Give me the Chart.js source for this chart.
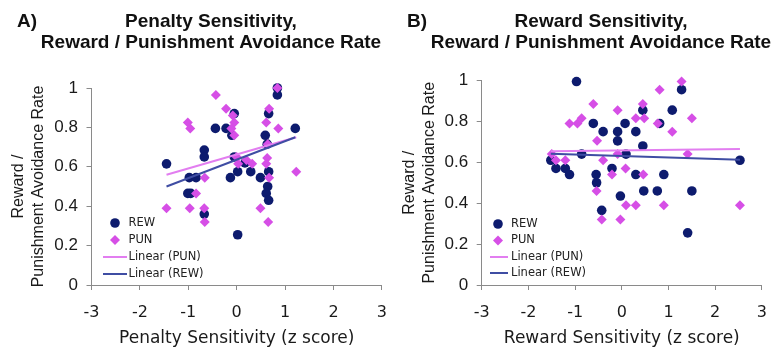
<!DOCTYPE html>
<html>
<head>
<meta charset="utf-8">
<script src="https://cdn.jsdelivr.net/npm/chart.js@4.4.1/dist/chart.umd.min.js"></script>
<style>
  html, body { margin: 0; padding: 0; background: #ffffff; }
  #wrap { position: relative; width: 780px; height: 353px; overflow: hidden; background: #ffffff; }
  canvas { position: absolute; top: 0; }
  #panelA { left: 0; }
  #panelB { left: 395px; }
</style>
</head>
<body>
<div id="wrap">
  <canvas id="panelA" width="400" height="353"></canvas>
  <canvas id="panelB" width="385" height="353"></canvas>
</div>
<script>
// ---- tick values shared by both panels ----
const xTickValues = [-3, -2, -1, 0, 1, 2, 3];
const yTickValues = [0, 0.2, 0.4, 0.6, 0.8, 1];

// ---- Panel A: penalty sensitivity (z) vs avoidance rate ----
const penaltyRewX = [0.84, 0.84, -1.45, -0.44, -0.22, -0.05, -0.10, 1.21, 0.66, 0.59, 0.63, -0.67, -0.67, -0.05, 0.17, 0.02, 0.29, -0.13, 0.49, -0.98, -0.84, 0.66, 0.64, 0.61, 0.66, -1.01, -0.95, -0.67, 0.02];
const penaltyRewY = [1.00, 0.965, 0.615, 0.795, 0.795, 0.87, 0.76, 0.795, 0.87, 0.76, 0.715, 0.685, 0.65, 0.65, 0.62, 0.575, 0.575, 0.545, 0.545, 0.545, 0.545, 0.575, 0.50, 0.465, 0.43, 0.465, 0.465, 0.36, 0.255];
const penaltyPunX = [0.84, -0.43, -0.22, -0.08, -0.05, -0.11, -0.05, -1.01, -0.96, 0.67, 0.61, 0.86, 0.64, 0.00, 0.03, 0.20, 0.32, 0.63, 0.61, 0.67, 1.23, -0.66, -0.84, -1.45, -0.97, -0.67, -0.66, 0.49, 0.65];
const penaltyPunY = [1.00, 0.965, 0.895, 0.86, 0.825, 0.795, 0.76, 0.825, 0.795, 0.895, 0.825, 0.795, 0.715, 0.65, 0.615, 0.635, 0.615, 0.645, 0.615, 0.545, 0.575, 0.545, 0.465, 0.39, 0.39, 0.39, 0.32, 0.39, 0.32];
const penaltyFitPunX = [-1.45, 1.23];
const penaltyFitPunY = [0.56, 0.75];
const penaltyFitRewX = [-1.45, 1.21];
const penaltyFitRewY = [0.50, 0.75];

// ---- Panel B: reward sensitivity (z) vs avoidance rate ----
const rewardRewX = [-0.97, 1.28, 0.45, 1.08, -0.61, 0.07, 0.81, -0.40, -0.09, 0.30, -0.09, 0.45, -0.86, 0.09, -1.52, -1.41, -1.21, -1.12, -0.21, -0.55, -0.54, 0.30, 0.90, 0.47, 0.76, 1.50, -0.03, -0.43, 1.41, 2.53];
const rewardRewY = [0.995, 0.955, 0.855, 0.855, 0.79, 0.79, 0.79, 0.75, 0.75, 0.75, 0.705, 0.68, 0.64, 0.64, 0.61, 0.57, 0.57, 0.54, 0.57, 0.54, 0.50, 0.54, 0.54, 0.46, 0.46, 0.46, 0.435, 0.365, 0.255, 0.61];
const rewardPunX = [1.28, 0.81, -0.61, 0.45, -0.09, -0.86, -1.12, -0.95, 0.30, 0.48, 1.50, 0.77, 1.08, -0.53, -1.50, -0.09, 1.41, -1.41, -1.21, -0.40, 0.08, -0.21, 0.46, -0.54, 0.09, 0.30, 0.90, 2.53, -0.43, -0.03];
const rewardPunY = [0.995, 0.955, 0.885, 0.885, 0.855, 0.815, 0.79, 0.79, 0.815, 0.815, 0.815, 0.79, 0.75, 0.705, 0.64, 0.64, 0.64, 0.61, 0.61, 0.61, 0.57, 0.54, 0.54, 0.46, 0.39, 0.39, 0.39, 0.39, 0.32, 0.32];
const rewardFitPunX = [-1.52, 2.53];
const rewardFitPunY = [0.654, 0.665];
const rewardFitRewX = [-1.52, 2.53];
const rewardFitRewY = [0.642, 0.613];

// ---- look ----
const ARIAL = "'Liberation Sans', Arial, sans-serif";
const VERDANA = "'DejaVu Sans', Verdana, sans-serif";
const NAVY = '#0d1b6e';
const MAGENTA = '#d64fe6';
const MAGENTA_LINE = '#e27ef0';
const NAVY_LINE = '#3f4da3';
const AXIS_GREY = '#8a8a8a';

const pairs = (xs, ys) => xs.map((x, i) => ({ x: x, y: ys[i] }));

// Two-line bold heading with a panel letter on the left
const headingPlugin = {
  id: 'panelHeading',
  afterDraw(chart, args, o) {
    const ctx = chart.ctx;
    ctx.save();
    ctx.fillStyle = '#111111';
    ctx.font = `bold ${o.size}px ${ARIAL}`;
    ctx.textBaseline = 'middle';
    ctx.textAlign = 'left';
    ctx.fillText(o.tag, o.tagX, o.lineY[0]);
    ctx.textAlign = 'center';
    o.lines.forEach((t, i) => ctx.fillText(t, o.centerX, o.lineY[i]));
    ctx.restore();
  }
};

// Small key in the lower-left corner of the plot, built from the datasets
const keyPlugin = {
  id: 'cornerKey',
  afterDatasetsDraw(chart, args, o) {
    const ctx = chart.ctx;
    ctx.save();
    ctx.font = `${o.size}px ${VERDANA}`;
    ctx.textBaseline = 'middle';
    ctx.textAlign = 'left';
    chart.data.datasets.forEach((ds, i) => {
      const y = o.rows[i];
      if (ds.showLine) {
        ctx.strokeStyle = ds.borderColor;
        ctx.lineWidth = ds.borderWidth;
        ctx.beginPath();
        ctx.moveTo(o.lineX[0], y);
        ctx.lineTo(o.lineX[1], y);
        ctx.stroke();
      } else {
        ctx.fillStyle = ds.backgroundColor;
        const r = ds.pointRadius;
        ctx.beginPath();
        if (ds.pointStyle === 'rectRot') {
          ctx.moveTo(o.markX, y - r);
          ctx.lineTo(o.markX + r, y);
          ctx.lineTo(o.markX, y + r);
          ctx.lineTo(o.markX - r, y);
          ctx.closePath();
        } else {
          ctx.arc(o.markX, y, r, 0, Math.PI * 2);
        }
        ctx.fill();
      }
      ctx.fillStyle = '#222222';
      ctx.fillText(ds.label, o.textX, y);
    });
    ctx.restore();
  }
};

function buildPanel(id, p) {
  const datasets = [
    { label: 'REW', type: 'scatter', data: pairs(p.rewX, p.rewY), pointStyle: 'circle', pointRadius: 4.8,
      backgroundColor: NAVY, borderWidth: 0, pointBorderWidth: 0, order: 4, clip: false },
    { label: 'PUN', type: 'scatter', data: pairs(p.punX, p.punY), pointStyle: 'rectRot', pointRadius: 5,
      backgroundColor: MAGENTA, borderWidth: 0, pointBorderWidth: 0, order: 3, clip: false },
    { label: 'Linear (PUN)', type: 'line', data: pairs(p.fitPunX, p.fitPunY), showLine: true, pointRadius: 0,
      borderColor: MAGENTA_LINE, borderWidth: 2, fill: false, order: 2 },
    { label: 'Linear (REW)', type: 'line', data: pairs(p.fitRewX, p.fitRewY), showLine: true, pointRadius: 0,
      borderColor: NAVY_LINE, borderWidth: 2, fill: false, order: 1 }
  ];

  return new Chart(document.getElementById(id), {
    type: 'scatter',
    data: { datasets },
    plugins: [headingPlugin, keyPlugin],
    options: {
      responsive: false,
      animation: false,
      devicePixelRatio: 1,
      layout: { padding: { top: p.top, right: p.right, bottom: 0, left: 0 } },
      scales: {
        x: {
          type: 'linear',
          min: xTickValues[0],
          max: xTickValues[xTickValues.length - 1],
          afterBuildTicks: (s) => { s.ticks = xTickValues.map(v => ({ value: v })); },
          afterFit: (s) => { s.height = 353 - 285; },
          grid: { drawOnChartArea: false, drawTicks: true, tickLength: 5, color: AXIS_GREY },
          border: { color: AXIS_GREY, width: 1 },
          ticks: { color: '#1a1a1a', padding: 13, font: { family: VERDANA, size: 16 }, maxRotation: 0 },
          title: { display: true, text: p.xTitle, color: '#1a1a1a',
                   font: { family: VERDANA, size: 17, lineHeight: 1.2 }, padding: { top: 0, bottom: 4 } }
        },
        y: {
          type: 'linear',
          min: yTickValues[0],
          max: yTickValues[yTickValues.length - 1],
          afterBuildTicks: (s) => { s.ticks = yTickValues.map(v => ({ value: v })); },
          afterFit: (s) => { s.width = p.axisLeft; },
          grid: { drawOnChartArea: false, drawTicks: true, tickLength: 5, color: AXIS_GREY },
          border: { color: AXIS_GREY, width: 1 },
          ticks: { color: '#1a1a1a', padding: 8.5, font: { family: ARIAL, size: 17 },
                   callback: (v) => String(Math.round(v * 10) / 10) },
          title: { display: true, text: ['Reward /', 'Punishment Avoidance Rate'], color: '#1a1a1a',
                   font: { family: ARIAL, size: 16, lineHeight: 1.25 }, padding: { top: p.yTitlePad, bottom: 0 } }
        }
      },
      plugins: {
        legend: { display: false },
        tooltip: { enabled: false },
        panelHeading: { tag: p.tag, tagX: p.tagX, centerX: p.headCenter, lines: p.heading, lineY: [22, 43], size: 19 },
        cornerKey: { rows: p.keyRows, markX: p.keyMarkX, textX: p.keyTextX, lineX: p.keyLineX, size: 11.5 }
      }
    }
  });
}

buildPanel('panelA', {
  rewX: penaltyRewX, rewY: penaltyRewY, punX: penaltyPunX, punY: penaltyPunY,
  fitPunX: penaltyFitPunX, fitPunY: penaltyFitPunY, fitRewX: penaltyFitRewX, fitRewY: penaltyFitRewY,
  xTitle: 'Penalty Sensitivity (z score)',
  tag: 'A)', tagX: 17, headCenter: 211,
  heading: ['Penalty Sensitivity,', 'Reward / Punishment Avoidance Rate'],
  top: 88, right: 12.5, axisLeft: 91.5, yTitlePad: 9,
  keyRows: [223, 240, 257, 274], keyMarkX: 115, keyTextX: 128.5, keyLineX: [103, 127]
});

buildPanel('panelB', {
  rewX: rewardRewX, rewY: rewardRewY, punX: rewardPunX, punY: rewardPunY,
  fitPunX: rewardFitPunX, fitPunY: rewardFitPunY, fitRewX: rewardFitRewX, fitRewY: rewardFitRewY,
  xTitle: 'Reward Sensitivity (z score)',
  tag: 'B)', tagX: 12, headCenter: 206,
  heading: ['Reward Sensitivity,', 'Reward / Punishment Avoidance Rate'],
  top: 80.5, right: 8.3, axisLeft: 86.7, yTitlePad: 5,
  keyRows: [224, 240.5, 257, 273], keyMarkX: 103, keyTextX: 116, keyLineX: [95, 113]
});
</script>
</body>
</html>
